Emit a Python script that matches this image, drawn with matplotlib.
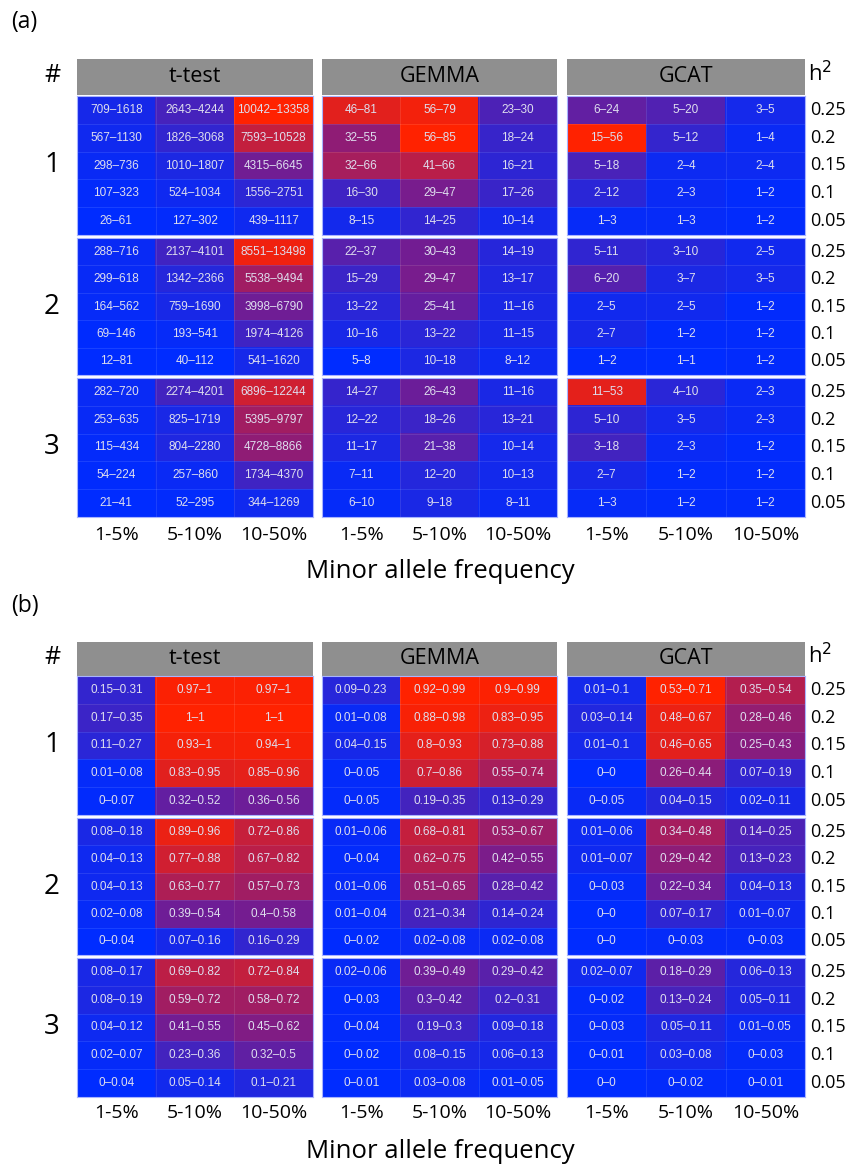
import numpy as np
import matplotlib
matplotlib.use("Agg")
import matplotlib.pyplot as plt
from matplotlib.colors import LinearSegmentedColormap, Normalize
from matplotlib.patches import Rectangle

# ---------------- data ----------------
methods = ["t-test", "GEMMA", "GCAT"]
maf_labels = ["1-5%", "5-10%", "10-50%"]
h2_labels = ["0.25", "0.2", "0.15", "0.1", "0.05"]
scenarios = ["1", "2", "3"]

# panel (a): ranges per scenario, rows = h2 (0.25 .. 0.05), cols = MAF bins
a_ttest = [
    [["709-1618", "2643-4244", "10042-13358"],
     ["567-1130", "1826-3068", "7593-10528"],
     ["298-736", "1010-1807", "4315-6645"],
     ["107-323", "524-1034", "1556-2751"],
     ["26-61", "127-302", "439-1117"]],
    [["288-716", "2137-4101", "8551-13498"],
     ["299-618", "1342-2366", "5538-9494"],
     ["164-562", "759-1690", "3998-6790"],
     ["69-146", "193-541", "1974-4126"],
     ["12-81", "40-112", "541-1620"]],
    [["282-720", "2274-4201", "6896-12244"],
     ["253-635", "825-1719", "5395-9797"],
     ["115-434", "804-2280", "4728-8866"],
     ["54-224", "257-860", "1734-4370"],
     ["21-41", "52-295", "344-1269"]],
]
a_gemma = [
    [["46-81", "56-79", "23-30"],
     ["32-55", "56-85", "18-24"],
     ["32-66", "41-66", "16-21"],
     ["16-30", "29-47", "17-26"],
     ["8-15", "14-25", "10-14"]],
    [["22-37", "30-43", "14-19"],
     ["15-29", "29-47", "13-17"],
     ["13-22", "25-41", "11-16"],
     ["10-16", "13-22", "11-15"],
     ["5-8", "10-18", "8-12"]],
    [["14-27", "26-43", "11-16"],
     ["12-22", "18-26", "13-21"],
     ["11-17", "21-38", "10-14"],
     ["7-11", "12-20", "10-13"],
     ["6-10", "9-18", "8-11"]],
]
a_gcat = [
    [["6-24", "5-20", "3-5"],
     ["15-56", "5-12", "1-4"],
     ["5-18", "2-4", "2-4"],
     ["2-12", "2-3", "1-2"],
     ["1-3", "1-3", "1-2"]],
    [["5-11", "3-10", "2-5"],
     ["6-20", "3-7", "3-5"],
     ["2-5", "2-5", "1-2"],
     ["2-7", "1-2", "1-2"],
     ["1-2", "1-1", "1-2"]],
    [["11-53", "4-10", "2-3"],
     ["5-10", "3-5", "2-3"],
     ["3-18", "2-3", "1-2"],
     ["2-7", "1-2", "1-2"],
     ["1-3", "1-2", "1-2"]],
]

# panel (b)
b_ttest = [
    [["0.15-0.31", "0.97-1", "0.97-1"],
     ["0.17-0.35", "1-1", "1-1"],
     ["0.11-0.27", "0.93-1", "0.94-1"],
     ["0.01-0.08", "0.83-0.95", "0.85-0.96"],
     ["0-0.07", "0.32-0.52", "0.36-0.56"]],
    [["0.08-0.18", "0.89-0.96", "0.72-0.86"],
     ["0.04-0.13", "0.77-0.88", "0.67-0.82"],
     ["0.04-0.13", "0.63-0.77", "0.57-0.73"],
     ["0.02-0.08", "0.39-0.54", "0.4-0.58"],
     ["0-0.04", "0.07-0.16", "0.16-0.29"]],
    [["0.08-0.17", "0.69-0.82", "0.72-0.84"],
     ["0.08-0.19", "0.59-0.72", "0.58-0.72"],
     ["0.04-0.12", "0.41-0.55", "0.45-0.62"],
     ["0.02-0.07", "0.23-0.36", "0.32-0.5"],
     ["0-0.04", "0.05-0.14", "0.1-0.21"]],
]
b_gemma = [
    [["0.09-0.23", "0.92-0.99", "0.9-0.99"],
     ["0.01-0.08", "0.88-0.98", "0.83-0.95"],
     ["0.04-0.15", "0.8-0.93", "0.73-0.88"],
     ["0-0.05", "0.7-0.86", "0.55-0.74"],
     ["0-0.05", "0.19-0.35", "0.13-0.29"]],
    [["0.01-0.06", "0.68-0.81", "0.53-0.67"],
     ["0-0.04", "0.62-0.75", "0.42-0.55"],
     ["0.01-0.06", "0.51-0.65", "0.28-0.42"],
     ["0.01-0.04", "0.21-0.34", "0.14-0.24"],
     ["0-0.02", "0.02-0.08", "0.02-0.08"]],
    [["0.02-0.06", "0.39-0.49", "0.29-0.42"],
     ["0-0.03", "0.3-0.42", "0.2-0.31"],
     ["0-0.04", "0.19-0.3", "0.09-0.18"],
     ["0-0.02", "0.08-0.15", "0.06-0.13"],
     ["0-0.01", "0.03-0.08", "0.01-0.05"]],
]
b_gcat = [
    [["0.01-0.1", "0.53-0.71", "0.35-0.54"],
     ["0.03-0.14", "0.48-0.67", "0.28-0.46"],
     ["0.01-0.1", "0.46-0.65", "0.25-0.43"],
     ["0-0", "0.26-0.44", "0.07-0.19"],
     ["0-0.05", "0.04-0.15", "0.02-0.11"]],
    [["0.01-0.06", "0.34-0.48", "0.14-0.25"],
     ["0.01-0.07", "0.29-0.42", "0.13-0.23"],
     ["0-0.03", "0.22-0.34", "0.04-0.13"],
     ["0-0", "0.07-0.17", "0.01-0.07"],
     ["0-0", "0-0.03", "0-0.03"]],
    [["0.02-0.07", "0.18-0.29", "0.06-0.13"],
     ["0-0.02", "0.13-0.24", "0.05-0.11"],
     ["0-0.03", "0.05-0.11", "0.01-0.05"],
     ["0-0.01", "0.03-0.08", "0-0.03"],
     ["0-0", "0-0.02", "0-0.01"]],
]

panels = {"(a)": [a_ttest, a_gemma, a_gcat], "(b)": [b_ttest, b_gemma, b_gcat]}

# ---------------- layout (pixels) ----------------
W, H = 857, 1165
fig = plt.figure(figsize=(W / 100, H / 100), dpi=100)
fig.patch.set_facecolor("white")

cmap = LinearSegmentedColormap.from_list("br", ["#002cff", "#7a1c8c", "#ff2200"])
cell_font = "Liberation Sans"
out_font = "Open Sans"

method_x = [(77, 313), (322, 557), (567, 805)]
panel_layout = {
    "(a)": dict(label_y=22, header=(59, 95), blocks=[(96, 235), (238, 375), (378, 517)],
                maf_y=535, xlab_y=572),
    "(b)": dict(label_y=606, header=(642, 676), blocks=[(676, 815), (818, 955), (958, 1097)],
                maf_y=1113, xlab_y=1152),
}

# overlay axes in pixel coordinates for outer text / headers
ov = fig.add_axes([0, 0, 1, 1])
ov.set_xlim(0, W)
ov.set_ylim(H, 0)
ov.axis("off")


def parse(block):
    return np.array([[[float(v) for v in s.split("-")] for s in row] for row in block])


def add_px_axes(x0, x1, y0, y1):
    return fig.add_axes([x0 / W, 1 - y1 / H, (x1 - x0) / W, (y1 - y0) / H])


for pname, mdata in panels.items():
    L = panel_layout[pname]
    ov.text(11, L["label_y"], pname, fontsize=16.5, family=out_font, ha="left", va="center")
    hy0, hy1 = L["header"]
    ov.text(52, (hy0 + hy1) / 2 - 1, "#", fontsize=18, family=out_font, ha="center", va="center")
    ov.text(808, (hy0 + hy1) / 2 - 3, "h$^2$", fontsize=16, family=out_font, ha="left", va="center")

    for mi, (mname, blocks) in enumerate(zip(methods, mdata)):
        x0, x1 = method_x[mi]
        ov.add_patch(Rectangle((x0, hy0), x1 - x0, hy1 - hy0, facecolor="#8f8f8f",
                               edgecolor="none"))
        ov.text((x0 + x1) / 2, (hy0 + hy1) / 2, mname, fontsize=15.5, family=out_font,
                ha="center", va="center")
        parsed = [parse(b) for b in blocks]
        means = np.array([p.mean(axis=2) for p in parsed])
        norm = Normalize(vmin=means.min(), vmax=means.max())
        for si, (blk, p) in enumerate(zip(blocks, parsed)):
            by0, by1 = L["blocks"][si]
            ax = add_px_axes(x0, x1, by0, by1)
            m = p.mean(axis=2)
            ax.imshow(m, cmap=cmap, norm=norm, aspect="auto", interpolation="nearest")
            nr, nc = m.shape
            for r in range(nr + 1):
                ax.axhline(r - 0.5, color="white", alpha=0.12, lw=0.6)
            for c in range(nc + 1):
                ax.axvline(c - 0.5, color="white", alpha=0.12, lw=0.6)
            for r in range(nr):
                for c in range(nc):
                    ax.text(c, r, blk[r][c].replace("-", "\u2013"), ha="center", va="center",
                            fontsize=8.5, family=cell_font, color="#dedeee")
            ax.set_xticks([])
            ax.set_yticks([])
            for sp in ax.spines.values():
                sp.set_color("#a8b4ff")
                sp.set_linewidth(0.8)
            if mi == 0:
                ov.text(52, (by0 + by1) / 2, scenarios[si], fontsize=20, family=out_font,
                        ha="center", va="center")
            if mi == 2:
                rh = (by1 - by0) / nr
                for r in range(nr):
                    ov.text(810, by0 + rh * (r + 0.5), h2_labels[r], fontsize=13,
                            family=out_font, ha="left", va="center")
        cw = (x1 - x0) / 3
        for c in range(3):
            ov.text(x0 + cw * (c + 0.5), L["maf_y"], maf_labels[c], fontsize=14,
                    family=out_font, ha="center", va="center")
    ov.text(440, L["xlab_y"], "Minor allele frequency", fontsize=18.5, family=out_font,
            ha="center", va="center")

fig.savefig("out.png", dpi=100, facecolor="white")
